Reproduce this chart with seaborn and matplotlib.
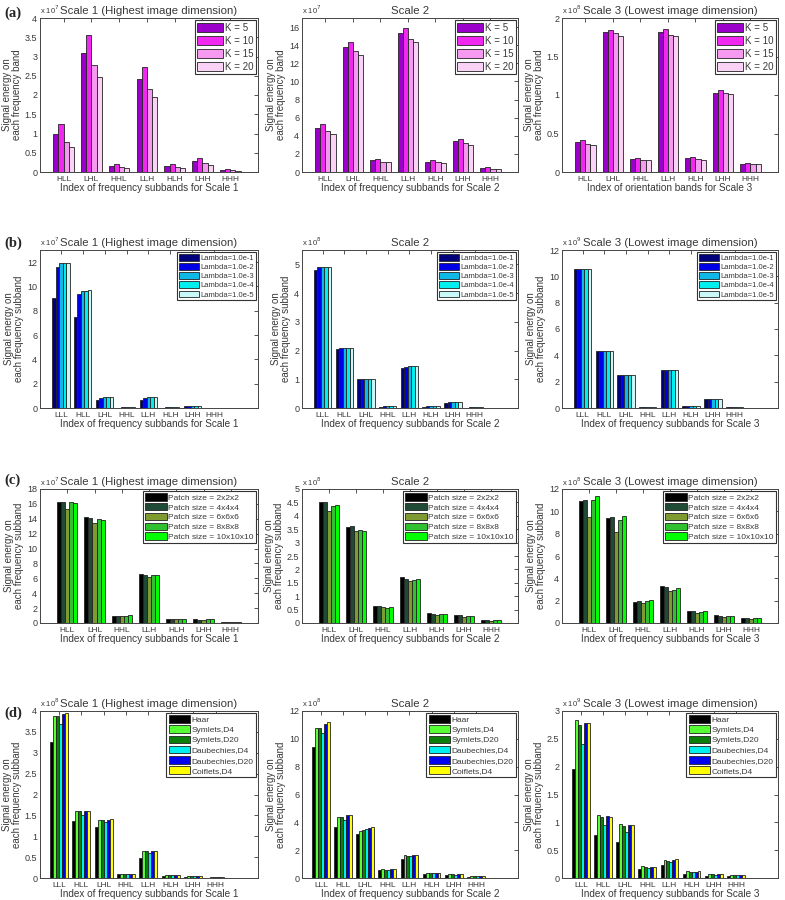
import numpy as np
import pandas as pd
import matplotlib
matplotlib.use("Agg")
import matplotlib.pyplot as plt
from matplotlib.ticker import FuncFormatter, MultipleLocator
import seaborn as sns

sns.set_style("white")
plt.rcParams['font.family'] = ['Liberation Sans', 'DejaVu Sans']
TXT = '#383838'

# --- dados ---
bands7 = ['HLL', 'LHL', 'HHL', 'LLH', 'HLH', 'LHH', 'HHH']
bands8 = ['LLL', 'HLL', 'LHL', 'HHL', 'LLH', 'HLH', 'LHH', 'HHH']

# (a) numero de clusters K
k_labels = ['K = 5', 'K = 10', 'K = 15', 'K = 20']
k_colors = ['#9a00c9', '#f028f0', '#f59af0', '#fad2f5']
a1_vals = [[0.98, 1.25, 0.79, 0.64], [3.10, 3.57, 2.79, 2.46], [0.15, 0.21, 0.12, 0.10],
           [2.42, 2.72, 2.15, 1.95], [0.15, 0.21, 0.12, 0.10], [0.28, 0.36, 0.24, 0.18],
           [0.06, 0.08, 0.04, 0.03]]
a2_vals = [[4.9, 5.3, 4.5, 4.2], [13.8, 14.4, 13.4, 12.9], [1.3, 1.4, 1.15, 1.1],
           [15.3, 15.9, 14.7, 14.3], [1.15, 1.3, 1.05, 0.95], [3.4, 3.6, 3.2, 3.0],
           [0.45, 0.5, 0.38, 0.33]]
a3_vals = [[0.39, 0.41, 0.36, 0.35], [1.82, 1.84, 1.80, 1.77], [0.17, 0.18, 0.15, 0.15],
           [1.82, 1.86, 1.78, 1.77], [0.18, 0.19, 0.17, 0.16], [1.03, 1.06, 1.02, 1.01],
           [0.11, 0.12, 0.11, 0.10]]

# (b) lambda
lam_labels = ['Lambda=1.0e-1', 'Lambda=1.0e-2', 'Lambda=1.0e-3', 'Lambda=1.0e-4', 'Lambda=1.0e-5']
lam_colors = ['#00007a', '#0000e6', '#10b8e8', '#00f0f0', '#c8f8f8']
b1_vals = [[9.05, 11.6, 11.9, 11.9, 11.9], [7.45, 9.4, 9.65, 9.65, 9.7],
           [0.65, 0.85, 0.92, 0.92, 0.92], [0.03, 0.06, 0.07, 0.07, 0.07],
           [0.65, 0.85, 0.92, 0.92, 0.92], [0.03, 0.06, 0.07, 0.07, 0.07],
           [0.13, 0.17, 0.18, 0.18, 0.18], [0.01, 0.02, 0.03, 0.03, 0.03]]
b2_vals = [[4.8, 4.92, 4.92, 4.92, 4.92], [2.05, 2.08, 2.09, 2.09, 2.09],
           [1.0, 1.02, 1.02, 1.02, 1.02], [0.05, 0.06, 0.06, 0.06, 0.06],
           [1.4, 1.44, 1.45, 1.45, 1.45], [0.05, 0.06, 0.06, 0.06, 0.06],
           [0.19, 0.20, 0.21, 0.21, 0.21], [0.01, 0.02, 0.02, 0.02, 0.02]]
b3_vals = [[10.55, 10.55, 10.55, 10.55, 10.55], [4.35, 4.35, 4.35, 4.35, 4.35],
           [2.5, 2.5, 2.5, 2.5, 2.5], [0.1, 0.1, 0.1, 0.1, 0.1],
           [2.85, 2.85, 2.85, 2.85, 2.85], [0.15, 0.15, 0.15, 0.15, 0.15],
           [0.65, 0.65, 0.65, 0.65, 0.65], [0.1, 0.1, 0.1, 0.1, 0.1]]

# (c) tamanho do patch
patch_labels = ['Patch size = 2x2x2', 'Patch size = 4x4x4', 'Patch size = 6x6x6',
                'Patch size = 8x8x8', 'Patch size = 10x10x10']
patch_colors = ['#000000', '#1f4a35', '#7e9a30', '#30c030', '#00ff00']
c1_vals = [[16.2, 16.2, 15.3, 16.2, 16.1], [14.3, 14.1, 13.4, 14.0, 13.9],
           [1.0, 1.0, 0.9, 1.0, 1.05], [6.6, 6.5, 6.2, 6.5, 6.4],
           [0.6, 0.55, 0.5, 0.6, 0.55], [0.5, 0.45, 0.4, 0.5, 0.5],
           [0.12, 0.12, 0.1, 0.12, 0.12]]
c2_vals = [[4.5, 4.5, 4.18, 4.38, 4.42], [3.6, 3.62, 3.45, 3.47, 3.44],
           [0.62, 0.62, 0.6, 0.57, 0.6], [1.7, 1.63, 1.57, 1.62, 1.65],
           [0.37, 0.35, 0.3, 0.33, 0.33], [0.28, 0.3, 0.22, 0.27, 0.27],
           [0.1, 0.1, 0.08, 0.1, 0.1]]
c3_vals = [[10.9, 11.0, 9.45, 11.0, 11.35], [9.4, 9.45, 8.15, 9.25, 9.55],
           [1.9, 2.0, 1.8, 2.0, 2.05], [3.3, 3.2, 2.85, 3.0, 3.1],
           [1.1, 1.05, 0.9, 1.0, 1.1], [0.7, 0.65, 0.55, 0.65, 0.65],
           [0.45, 0.45, 0.4, 0.45, 0.47]]

# (d) wavelets
wav_labels = ['Haar', 'Symlets,D4', 'Symlets,D20', 'Daubechies,D4', 'Daubechies,D20', 'Coiflets,D4']
wav_colors = ['#000000', '#55ff33', '#0a800a', '#00f0f0', '#0000f0', '#ffff00']
d1_vals = [[3.25, 3.88, 3.88, 3.68, 3.92, 3.95], [1.36, 1.61, 1.6, 1.52, 1.61, 1.61],
           [1.22, 1.39, 1.38, 1.33, 1.4, 1.42], [0.09, 0.1, 0.1, 0.09, 0.09, 0.1],
           [0.47, 0.64, 0.64, 0.61, 0.65, 0.65], [0.04, 0.06, 0.06, 0.06, 0.06, 0.06],
           [0.03, 0.05, 0.05, 0.04, 0.05, 0.05], [0.01, 0.02, 0.02, 0.02, 0.02, 0.02]]
d2_vals = [[9.4, 10.8, 10.8, 10.45, 11.1, 11.2], [3.7, 4.4, 4.35, 4.2, 4.5, 4.5],
           [3.15, 3.4, 3.45, 3.5, 3.6, 3.65], [0.6, 0.65, 0.6, 0.6, 0.62, 0.62],
           [1.35, 1.68, 1.6, 1.6, 1.62, 1.68], [0.3, 0.38, 0.38, 0.35, 0.38, 0.38],
           [0.22, 0.27, 0.27, 0.24, 0.27, 0.28], [0.1, 0.12, 0.12, 0.11, 0.12, 0.12]]
d3_vals = [[1.95, 2.83, 2.74, 2.41, 2.78, 2.78], [0.77, 1.14, 1.1, 0.95, 1.11, 1.09],
           [0.65, 0.97, 0.93, 0.82, 0.95, 0.95], [0.16, 0.21, 0.19, 0.18, 0.2, 0.2],
           [0.24, 0.32, 0.3, 0.29, 0.32, 0.34], [0.07, 0.12, 0.11, 0.1, 0.11, 0.12],
           [0.04, 0.07, 0.07, 0.06, 0.07, 0.07], [0.04, 0.05, 0.05, 0.05, 0.05, 0.05]]

titles = ['Scale 1 (Highest image dimension)', 'Scale 2', 'Scale 3 (Lowest image dimension)']

W, H = 785, 900
fig = plt.figure(figsize=(W / 100, H / 100), dpi=100)

cols_px = [(40, 258), (302, 518), (562, 778)]
rows_px = [(18, 172), (250, 408), (489, 623), (711, 878)]


def make_ax(r, c):
    x0, x1 = cols_px[c]
    y0, y1 = rows_px[r]
    return fig.add_axes([x0 / W, 1 - y1 / H, (x1 - x0) / W, (y1 - y0) / H])


def draw_panel(ax, bands, labels, colors, vals, ylim, step, xlim, expo, col,
               xlabel, ylabel, width, leg_fs, leg_sp):
    rows = []
    for b, v in zip(bands, vals):
        for lab, val in zip(labels, v):
            rows.append({'band': b, 'serie': lab, 'valor': val})
    df = pd.DataFrame(rows)
    sns.barplot(data=df, x='band', y='valor', hue='serie', order=bands, hue_order=labels,
                palette=dict(zip(labels, colors)), width=width, edgecolor='#222222',
                linewidth=0.6, saturation=1, ax=ax)
    ax.set_xlim(*xlim)
    ax.set_ylim(*ylim)
    ax.yaxis.set_major_locator(MultipleLocator(step))
    ax.yaxis.set_major_formatter(FuncFormatter(lambda v, p: '%g' % round(v, 3)))
    ax.tick_params(direction='in', top=True, right=True, length=3, width=0.6,
                   labelsize=6.5, colors=TXT, pad=2)
    ax.tick_params(axis='x', labelsize=6, pad=3)
    for s in ax.spines.values():
        s.set_color('#444444')
        s.set_linewidth(0.7)
    ax.set_title(titles[col], fontsize=8.2, color=TXT, pad=3)
    ax.set_xlabel(xlabel, fontsize=7.2, color=TXT, labelpad=0)
    ax.set_ylabel(ylabel, fontsize=7, color=TXT, labelpad=2, linespacing=1.05)
    ax.text(0.0, 1.01, r'x 10$^{%d}$' % expo, transform=ax.transAxes,
            fontsize=5.5, color=TXT, va='bottom', ha='left')
    h, l = ax.get_legend_handles_labels()
    leg = ax.legend(h, l, loc='upper right', fontsize=leg_fs, frameon=True, fancybox=False,
                    edgecolor='#333333', framealpha=1, handlelength=2.6, handleheight=1.0,
                    labelspacing=leg_sp, borderpad=0.25, borderaxespad=0.25,
                    handletextpad=0.2)
    leg.get_frame().set_linewidth(0.8)
    for t in leg.get_texts():
        t.set_color(TXT)


panels = [
    (0, bands7, k_labels, k_colors, [a1_vals, a2_vals, a3_vals],
     [(0, 4), (0, 17), (0, 2)], [0.5, 2, 0.5], (-0.85, 7.0), [7, 7, 8], 0.74, 7, 0.3,
     'Signal energy on\neach frequency band'),
    (1, bands8, lam_labels, lam_colors, [b1_vals, b2_vals, b3_vals],
     [(0, 13), (0, 5.5), (0, 12)], [2, 1, 2], (-0.95, 9.0), [7, 8, 9], 0.8, 5.5, 0.15,
     'Signal energy on\neach frequency subband'),
    (2, bands7, patch_labels, patch_colors, [c1_vals, c2_vals, c3_vals],
     [(0, 18), (0, 5), (0, 12)], [2, 0.5, 2], (-1.0, 7.0), [7, 8, 8], 0.74, 6, 0.15,
     'Signal energy on\neach frequency subband'),
    (3, bands8, wav_labels, wav_colors, [d1_vals, d2_vals, d3_vals],
     [(0, 4), (0, 12), (0, 3)], [0.5, 2, 0.5], (-0.85, 8.9), [8, 8, 9], 0.8, 6, 0.2,
     'Signal energy on\neach frequency subband'),
]

for r, bands, labels, colors, vals_list, ylims, steps, xlim, expos, width, lfs, lsp, ylab in panels:
    for c in range(3):
        ax = make_ax(r, c)
        if r == 0 and c == 2:
            xlab = 'Index of orientation bands for Scale 3'
        else:
            xlab = 'Index of frequency subbands for Scale %d' % (c + 1)
        draw_panel(ax, bands, labels, colors, vals_list[c], ylims[c], steps[c], xlim,
                   expos[c], c, xlab, ylab, width, lfs, lsp)

# rotulos dos paineis
for lab, ypx in zip(['(a)', '(b)', '(c)', '(d)'], [13, 243, 480, 713]):
    fig.text(4 / W, 1 - ypx / H, lab, fontsize=10.5, fontweight='bold',
             family=['Liberation Serif', 'DejaVu Serif'], va='center', ha='left')

fig.savefig('out.png', dpi=100, facecolor='white')
